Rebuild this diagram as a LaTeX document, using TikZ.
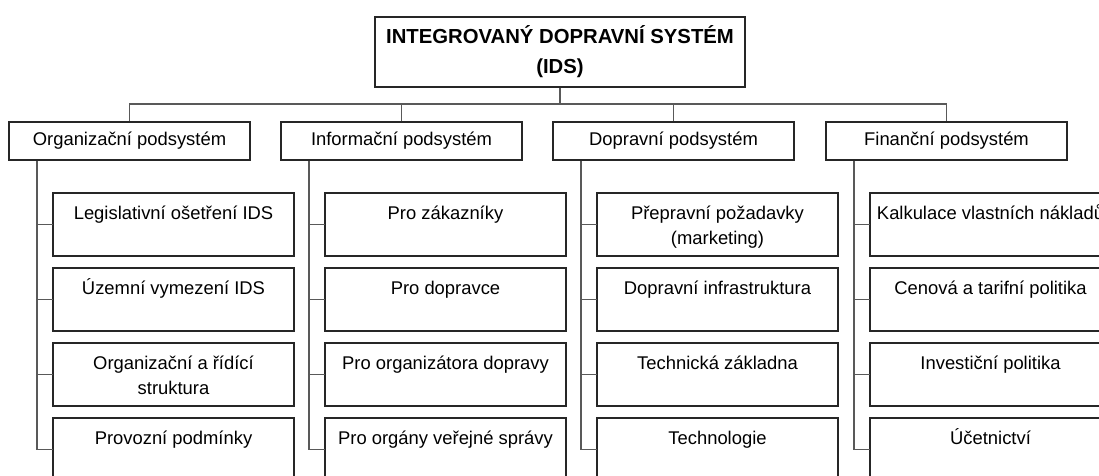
\documentclass[tikz,border=0pt]{standalone}
\usepackage{fontspec}
\setmainfont{Liberation Sans}
\usetikzlibrary{positioning}

% text of a lower box, set at its top
\newcommand{\celltext}[1]{\parbox[c][63pt][t]{241pt}{\centering\rule{0pt}{26.6pt}#1}}

\begin{document}
\begin{tikzpicture}[
    x=1pt, y=-1pt,
    title/.style={
        draw=black!85,
        line width=1.3pt,
        align=center,
        minimum width=370pt,
        minimum height=70pt,
        font=\bfseries\fontsize{20.3}{30}\selectfont
    },
    subsys/.style={
        draw=black!85,
        line width=1.3pt,
        minimum width=241pt,
        minimum height=38pt,
        inner sep=0pt,
        font=\fontsize{18.4}{25}\selectfont
    },
    item/.style={
        draw=black!85,
        line width=1.3pt,
        inner sep=0pt,
        outer sep=0pt,
        font=\fontsize{18.4}{25}\selectfont
    },
    link/.style={
        draw=black!65,
        line width=1.3pt
    }
]

% Page and cut edges
\useasboundingbox (0, 0) rectangle (1099, 475);
\clip (0, 0) rectangle (1099, 475);

% ========== TOP ==========

\node[title] (ids) at (560, 52) {INTEGROVANÝ DOPRAVNÍ SYSTÉM\\(IDS)};

% ========== SUBSYSTEMS ==========

\node[subsys] (org) at (129.5, 141) {Organizační podsystém};
\node[subsys] (inf) at (401.5, 141) {Informační podsystém};
\node[subsys] (dop) at (673.5, 141) {Dopravní podsystém};
\node[subsys] (fin) at (946.5, 141) {Finanční podsystém};

% ========== ORGANIZATION ==========

\node[item, anchor=north west] (org1) at (53, 193) {\celltext{Legislativní ošetření IDS}};
\node[item, below=12pt of org1] (org2) {\celltext{Územní vymezení IDS}};
\node[item, below=12pt of org2] (org3) {\celltext{Organizační a řídící\\struktura}};
\node[item, below=12pt of org3] (org4) {\celltext{Provozní podmínky}};

% ========== INFORMATION ==========

\node[item, anchor=north west] (inf1) at (325, 193) {\celltext{Pro zákazníky}};
\node[item, below=12pt of inf1] (inf2) {\celltext{Pro dopravce}};
\node[item, below=12pt of inf2] (inf3) {\celltext{Pro organizátora dopravy}};
\node[item, below=12pt of inf3] (inf4) {\celltext{Pro orgány veřejné správy}};

% ========== TRANSPORT ==========

\node[item, anchor=north west] (dop1) at (597, 193) {\celltext{Přepravní požadavky\\(marketing)}};
\node[item, below=12pt of dop1] (dop2) {\celltext{Dopravní infrastruktura}};
\node[item, below=12pt of dop2] (dop3) {\celltext{Technická základna}};
\node[item, below=12pt of dop3] (dop4) {\celltext{Technologie}};

% ========== FINANCE ==========

\node[item, anchor=north west] (fin1) at (870, 193) {\celltext{Kalkulace vlastních nákladů}};
\node[item, below=12pt of fin1] (fin2) {\celltext{Cenová a tarifní politika}};
\node[item, below=12pt of fin2] (fin3) {\celltext{Investiční politika}};
\node[item, below=12pt of fin3] (fin4) {\celltext{Účetnictví}};

% ========== CONNECTIONS - TOP ==========

\coordinate (bus) at (560, 104);
\draw[link] (ids.south) -- (bus);
\draw[link] (org.north) |- (bus) -| (fin.north);
\draw[link] (inf.north) -- (inf.north |- bus);
\draw[link] (dop.north) -- (dop.north |- bus);

% ========== CONNECTIONS - SUBSYSTEMS ==========

\coordinate (orgs) at ([xshift=-16pt]org1.west);
\coordinate (infs) at ([xshift=-16pt]inf1.west);
\coordinate (dops) at ([xshift=-16pt]dop1.west);
\coordinate (fins) at ([xshift=-16pt]fin1.west);

\draw[link] (org.south -| orgs) |- (org4.west);
\draw[link] (orgs |- org1.west) -- (org1.west);
\draw[link] (orgs |- org2.west) -- (org2.west);
\draw[link] (orgs |- org3.west) -- (org3.west);

\draw[link] (inf.south -| infs) |- (inf4.west);
\draw[link] (infs |- inf1.west) -- (inf1.west);
\draw[link] (infs |- inf2.west) -- (inf2.west);
\draw[link] (infs |- inf3.west) -- (inf3.west);

\draw[link] (dop.south -| dops) |- (dop4.west);
\draw[link] (dops |- dop1.west) -- (dop1.west);
\draw[link] (dops |- dop2.west) -- (dop2.west);
\draw[link] (dops |- dop3.west) -- (dop3.west);

\draw[link] (fin.south -| fins) |- (fin4.west);
\draw[link] (fins |- fin1.west) -- (fin1.west);
\draw[link] (fins |- fin2.west) -- (fin2.west);
\draw[link] (fins |- fin3.west) -- (fin3.west);

\end{tikzpicture}
\end{document}
